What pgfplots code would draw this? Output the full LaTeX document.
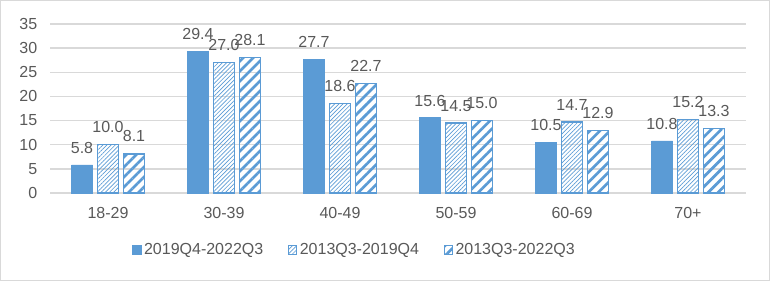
\documentclass[border=0pt]{standalone}
\usepackage{pgfplots}
\pgfplotsset{compat=1.18}
\usepackage{fontspec}
\setmainfont{Liberation Sans}
\usetikzlibrary{patterns.meta}
\definecolor{bblue}{HTML}{5B9BD5}
\definecolor{tgray}{HTML}{595959}
\definecolor{ggray}{HTML}{D9D9D9}
\begin{document}
\begin{tikzpicture}[x=0.75pt,y=0.75pt]
\draw[ggray,line width=0.75pt] (-49.5,-87.5) rectangle (719.5,192.5);
\begin{axis}[
  at={(0,0)}, anchor=south west,
  scale only axis, width=522pt, height=126.75pt,
  xmin=-0.5, xmax=5.5, ymin=0, ymax=35,
  ytick={0,5,...,35},
  xtick={0,1,2,3,4,5},
  xticklabels={18-29,30-39,40-49,50-59,60-69,70+},
  axis line style={draw=none},
  tick style={draw=none},
  ymajorgrids, major grid style={ggray, line width=1.1pt},
  ticklabel style={font=\fontsize{12}{14}\selectfont, text=tgray},
  /pgf/number format/assume math mode=true,
  yticklabel style={xshift=-6pt},
  xticklabel style={yshift=-3pt},
  ybar, bar width=15.75pt,
  nodes near coords,
  every node near coord/.append style={font=\fontsize{12}{14}\selectfont, text=tgray, yshift=5pt, /pgf/number format/.cd, fixed, fixed zerofill, precision=1, assume math mode=true},
  legend style={at={(0.112,-0.337)}, anchor=west, draw=none, legend columns=3,
    font=\fontsize{12}{14}\selectfont, text=tgray,
    /tikz/every even column/.append style={column sep=16.5pt}},
  legend image code/.code={\draw[#1, line width=0.5pt] (2pt,-3.2pt) rectangle (8.4pt,3.2pt);},
  clip=false,
]
\addplot[fill=bblue, draw=bblue, bar shift=-19.5pt] coordinates {(0,5.8) (1,29.4) (2,27.7) (3,15.6) (4,10.5) (5,10.8)};
\addplot[draw=bblue, line width=1pt, pattern={Lines[angle=45,distance=2.2pt,line width=0.5pt]}, pattern color=bblue, bar shift=0pt] coordinates {(0,10.0) (1,27.0) (2,18.6) (3,14.5) (4,14.7) (5,15.2)};
\addplot[draw=bblue, line width=1pt, pattern={Lines[angle=45,distance=5.3pt,line width=2pt]}, pattern color=bblue, bar shift=19.5pt] coordinates {(0,8.1) (1,28.1) (2,22.7) (3,15.0) (4,12.9) (5,13.3)};
\legend{2019Q4-2022Q3,2013Q3-2019Q4,2013Q3-2022Q3}
\end{axis}
\end{tikzpicture}
\end{document}
